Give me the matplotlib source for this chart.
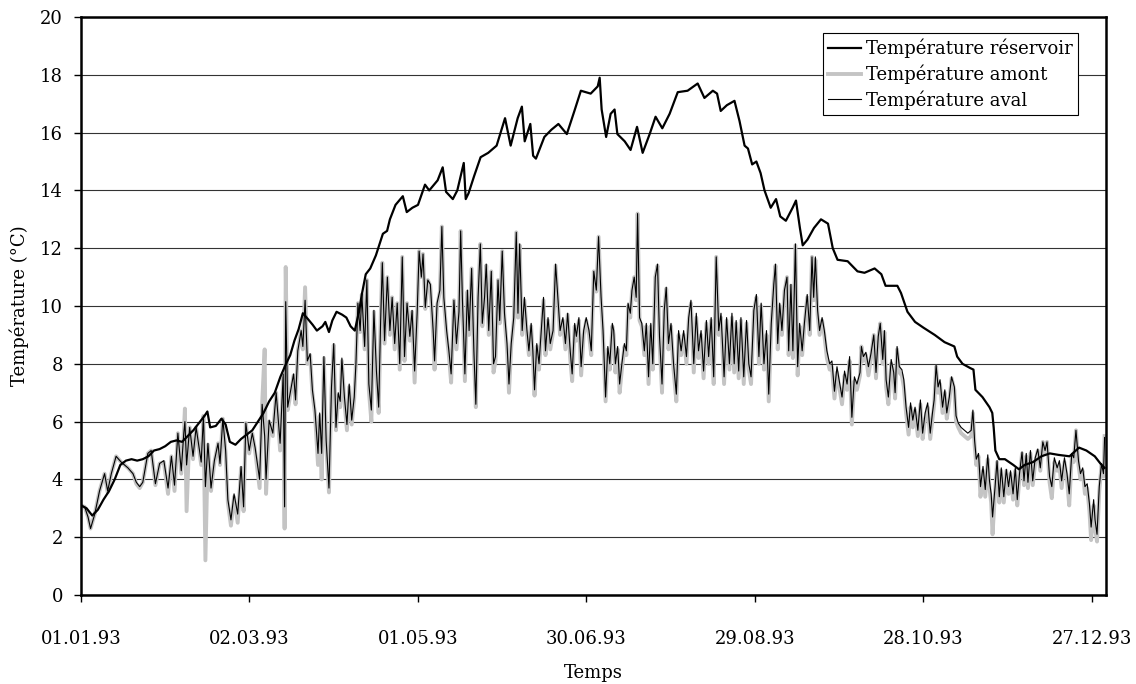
import matplotlib
matplotlib.use("Agg")
import matplotlib.pyplot as plt

# ── Data (day of year 1993, °C) ──────────────────────────────────────────────
res_days = [
    0, 2, 4, 6, 8, 10, 12, 14, 16, 18, 20, 22, 24, 26, 28, 30, 32, 34, 36, 38,
    40, 42, 44, 45, 46, 48, 50, 51.5, 53, 55, 57, 59, 61, 63, 65, 67, 69, 71, 73,
    74.5, 76, 77.5, 79, 80.8, 82.5, 84, 86, 87, 88.3, 89.5, 91, 93, 94.5, 96,
    97.5, 99, 100, 101.4, 103, 105, 106.5, 107.5, 109, 110, 112, 114.6, 116, 118,
    120, 122.5, 124, 127, 128.8, 130, 132.4, 134, 136.3, 137, 138, 140, 142.3,
    145, 148, 151, 153, 155.5, 157, 158, 160, 161, 162, 165, 167.5, 170, 173,
    175.7, 178, 181.5, 184, 184.7, 185.4, 187, 188.6, 190, 191, 193.6, 195.7,
    198, 200, 202.5, 204.6, 207, 209.6, 212.5, 216, 219.6, 222, 225, 226.5,
    227.8, 230, 232.7, 234.5, 236.3, 237.5, 239, 240.5, 242, 243.4, 245.6,
    247.5, 249, 251, 253.4, 254.6, 256, 257, 258.7, 261, 263.5, 266, 267.7,
    269.4, 273, 276.5, 279, 282.6, 285, 286.5, 290.7, 292, 294.3, 297, 300,
    304, 307.5, 311, 312, 313.9, 316.7, 317.8, 318.5, 321, 323.5, 324.5, 325,
    325.6, 327, 329, 332, 334, 336, 339, 342, 345, 348, 352, 355.4, 358, 361,
    363, 364.5,
]
res_temp = [
    3.1, 3.0, 2.75, 2.95, 3.3, 3.6, 4.0, 4.5, 4.65, 4.7, 4.65, 4.7, 4.8, 5.0,
    5.05, 5.15, 5.3, 5.35, 5.3, 5.5, 5.7, 5.95, 6.2, 6.35, 5.8, 5.85, 6.1, 5.9,
    5.3, 5.2, 5.4, 5.55, 5.7, 6.0, 6.3, 6.7, 7.0, 7.55, 8.0, 8.3, 8.8, 9.2,
    9.75, 9.55, 9.35, 9.15, 9.3, 9.45, 9.1, 9.5, 9.8, 9.7, 9.6, 9.3, 9.15, 9.8,
    10.4, 11.1, 11.3, 11.75, 12.2, 12.5, 12.6, 13.0, 13.5, 13.8, 13.25, 13.4,
    13.5, 14.2, 14.0, 14.35, 14.8, 13.95, 13.7, 14.0, 14.95, 13.7, 13.9, 14.5,
    15.15, 15.3, 15.55, 16.5, 15.55, 16.5, 16.9, 15.7, 16.3, 15.2, 15.1, 15.85,
    16.1, 16.3, 15.95, 16.75, 17.45, 17.35, 17.6, 17.9, 16.8, 15.85, 16.65,
    16.8, 15.95, 15.7, 15.4, 16.2, 15.3, 15.95, 16.55, 16.15, 16.65, 17.4,
    17.45, 17.7, 17.2, 17.45, 17.35, 16.75, 16.95, 17.1, 16.4, 15.55, 15.45,
    14.9, 15.0, 14.6, 14.0, 13.4, 13.7, 13.1, 12.95, 13.4, 13.65, 12.7, 12.1,
    12.3, 12.7, 13.0, 12.85, 12.0, 11.6, 11.55, 11.2, 11.15, 11.3, 11.1, 10.7,
    10.7, 10.45, 9.8, 9.45, 9.25, 9.0, 8.75, 8.6, 8.25, 8.0, 7.85, 7.8, 7.1,
    6.85, 6.5, 6.3, 5.8, 5.0, 4.7, 4.7, 4.5, 4.35, 4.5, 4.6, 4.8, 4.9, 4.85,
    4.8, 5.1, 5.0, 4.8, 4.55, 4.4,
]

aval_days = [
    0, 1.3, 2.5, 3.4, 4.9, 6.6, 8.4, 9.5, 10.8, 12.5,
    14.3, 16.7, 18.5, 19.7, 20.9, 22, 23.8, 25, 26.5, 28,
    29.5, 31, 32.2, 33.3, 34.5, 35.7, 36.6, 37.0, 37.6, 38.7,
    39.9, 41, 42.8, 43.6, 44.3, 45.2, 46.3, 47.5, 48.8, 49.5,
    50.5, 51.5, 52.3, 53.4, 54.5, 55.8, 57, 57.9, 58.7, 59.9,
    61, 62, 63.6, 64.5, 65.4, 65.9, 67, 68.3, 69.5, 70.9,
    72, 72.5, 72.9, 73.6, 74.5, 75.7, 76.4, 77.2, 78.4, 79,
    79.8, 80.6, 81.6, 82.4, 83.3, 84.4, 85, 85.7, 86.5, 87.3,
    88.3, 89.2, 90, 90.8, 91.6, 92.3, 92.9, 93.8, 94.7, 95.5,
    96.4, 97.3, 97.9, 98.6, 99.4, 100, 101, 101.8, 102.5, 103.4,
    104.3, 105.2, 106, 106.7, 107.3, 108.1, 109.1, 110, 110.8, 111.7,
    112.6, 113.5, 114.4, 115.2, 116.1, 117.1, 117.9, 118.8, 119.7, 120.4,
    121.2, 121.8, 122.6, 123.5, 124.4, 125.4, 125.9, 126.8, 127.8, 128.5,
    129.2, 130.2, 131, 131.8, 132.8, 133.7, 134.6, 135.2, 135.8, 136.7,
    137.6, 138.2, 139.1, 139.9, 140.6, 141.4, 142.2, 142.9, 143.7, 144.3,
    145.2, 146.1, 146.9, 147.6, 148.5, 149.1, 150, 150.8, 151.7, 152.4,
    153.2, 154.1, 155, 155.6, 156.2, 157.1, 157.9, 158.8, 159.5, 160.3,
    160.9, 161.5, 162.3, 163.1, 163.9, 164.7, 165.4, 166.3, 167.1, 168.1,
    169, 169.8, 170.6, 171.6, 172.5, 173.3, 174.2, 174.9, 175.8, 176.4,
    177.3, 178.1, 179, 179.9, 180.9, 181.7, 182.6, 183.5, 184.3, 185.2,
    185.9, 186.8, 187.6, 188.3, 189.2, 189.7, 190.3, 191.1, 191.8, 192.6,
    193.5, 194.2, 194.8, 195.6, 196.2, 197, 197.7, 198.2, 198.9, 199.7,
    200.6, 201.3, 202.1, 202.9, 203.6, 204.5, 205.3, 206, 206.9, 207.7,
    208.4, 209.2, 210.1, 211, 212, 212.8, 213.7, 214.6, 215.6, 216.4,
    217.2, 218.2, 219.1, 219.9, 220.8, 221.7, 222.7, 223.5, 224.4, 225.3,
    226.2, 227.1, 227.9, 229, 229.9, 230.9, 231.8, 232.6, 233.3, 234.2,
    235, 236, 237, 237.8, 238.6, 239.6, 240.5, 241.4, 242.2, 243.2,
    244.1, 244.9, 245.8, 246.7, 247.3, 248.1, 248.8, 249.6, 250.5, 251.4,
    252, 252.8, 253.5, 254.4, 255.2, 255.9, 256.8, 257.6, 258.6, 259.5,
    260.3, 260.9, 261.5, 262.3, 263, 263.9, 264.7, 265.6, 266.6, 267.4,
    268.3, 269.2, 270.2, 271, 271.9, 272.8, 273.7, 274.5, 275.4, 276.3,
    277.4, 277.9, 278.6, 279.5, 280.4, 281.3, 282.3, 283.1, 283.9, 284.6,
    285.5, 286.1, 286.7, 287.5, 288.5, 289.4, 289.9, 290.6, 291.4, 292.3,
    293, 293.8, 294.7, 295.4, 296.2, 297, 298, 298.9, 299.7, 300.6,
    301.5, 302.4, 303.2, 303.8, 304.5, 305.2, 305.9, 306.8, 307.6, 308.3,
    309.2, 310, 311, 311.6, 312.4, 313.4, 314.6, 315.8, 317, 317.6,
    318.2, 318.8, 319.6, 320.3, 321.2, 322, 322.9, 323.5, 324.1, 324.6,
    325.5, 326.2, 327, 327.7, 328.6, 329.5, 330.3, 331, 331.9, 332.7,
    333.4, 334.2, 335.1, 335.8, 336.6, 337.2, 338.1, 338.9, 339.8, 340.7,
    341.6, 342.5, 343.3, 344, 344.9, 345.7, 346.6, 347.6, 348.4, 349.2,
    350.2, 351.1, 351.9, 352.8, 353.5, 354.3, 355.2, 355.9, 356.7, 357.5,
    358.3, 359.1, 359.7, 360.6, 361.1, 361.8, 362.6, 363.4, 364.1, 364.5,
]
aval_temp = [
    3.1, 3.05, 2.7, 2.3, 2.8, 3.6, 4.2, 3.6, 4.2, 4.8,
    4.6, 4.4, 4.2, 3.9, 3.75, 3.9, 4.9, 5.0, 3.85, 4.55,
    4.65, 3.7, 4.8, 3.8, 5.6, 4.3, 5.6, 6.0, 4.5, 5.8,
    4.8, 5.8, 4.6, 6.2, 3.75, 5.25, 3.7, 4.65, 5.25, 4.55,
    6.1, 5.0, 3.3, 2.6, 3.5, 2.8, 4.45, 3.05, 5.95, 5.0,
    5.6, 5.1, 4.0, 6.6, 5.5, 4.0, 6.05, 5.6, 7.0, 5.25,
    7.65, 3.05, 10.15, 6.5, 7.0, 7.65, 6.75, 8.45, 9.15, 8.6,
    10.2, 8.1, 8.35, 7.1, 6.4, 4.9, 6.3, 4.9, 8.25, 5.35,
    3.7, 7.2, 8.7, 5.8, 7.0, 6.7, 8.2, 6.85, 5.9, 7.3,
    6.05, 6.85, 8.0, 10.1, 9.15, 10.4, 8.6, 10.9, 7.3, 6.4,
    9.85, 7.75, 6.5, 9.5, 11.5, 8.8, 11.0, 9.15, 10.3, 8.7,
    10.1, 8.0, 11.7, 8.25, 10.1, 8.95, 9.85, 7.75, 9.75, 11.9,
    11.0, 11.8, 9.95, 10.9, 10.75, 9.15, 8.1, 10.1, 10.55, 12.75,
    10.3, 9.15, 8.45, 7.65, 10.2, 8.7, 9.8, 12.6, 10.3, 7.65,
    10.55, 9.15, 11.3, 8.45, 6.6, 10.3, 12.15, 9.4, 10.3, 11.45,
    9.15, 11.2, 8.0, 8.25, 10.9, 9.5, 11.9, 9.75, 8.7, 7.3,
    8.7, 9.6, 12.55, 9.75, 12.15, 9.15, 10.3, 9.15, 8.45, 9.4,
    8.45, 7.1, 8.7, 8.0, 9.15, 10.3, 8.45, 9.6, 8.7, 9.15,
    11.45, 10.3, 9.15, 9.6, 8.7, 9.75, 8.45, 7.65, 9.4, 8.95,
    9.6, 7.9, 9.15, 9.6, 9.15, 8.45, 11.2, 10.55, 12.4, 10.3,
    9.15, 6.85, 8.6, 8.0, 9.4, 9.15, 8.0, 8.6, 7.3, 8.0,
    8.7, 8.45, 10.1, 9.75, 10.55, 11.0, 10.3, 13.2, 9.6, 9.4,
    8.45, 9.4, 7.55, 9.4, 8.0, 11.0, 11.45, 8.95, 7.3, 9.85,
    10.65, 8.7, 9.4, 8.0, 6.95, 9.15, 8.45, 9.15, 8.25, 9.6,
    10.2, 8.0, 9.75, 8.45, 9.15, 7.75, 9.5, 8.25, 9.6, 7.55,
    11.7, 9.15, 9.75, 7.55, 9.6, 8.0, 9.75, 8.0, 9.5, 7.75,
    9.6, 7.55, 9.5, 8.0, 7.55, 9.85, 10.4, 8.25, 10.1, 8.0,
    9.15, 6.95, 9.4, 10.75, 11.45, 8.7, 10.1, 9.15, 10.55, 11.0,
    8.45, 10.75, 8.45, 12.15, 7.9, 9.4, 8.45, 9.4, 10.4, 9.15,
    11.7, 10.3, 11.7, 9.85, 9.15, 9.6, 9.15, 8.45, 8.0, 8.1,
    7.05, 7.9, 7.3, 6.85, 7.75, 7.3, 8.25, 6.15, 7.55, 7.3,
    7.7, 8.6, 8.25, 8.4, 7.9, 8.35, 9.0, 7.7, 8.95, 9.4,
    8.15, 9.15, 7.45, 6.85, 8.15, 7.7, 7.0, 8.6, 7.9, 7.8,
    7.45, 6.5, 5.8, 6.65, 6.05, 6.5, 5.7, 6.75, 5.6, 6.3,
    6.65, 5.6, 6.3, 6.75, 7.95, 7.2, 7.45, 6.5, 7.1, 6.3,
    6.85, 7.55, 7.2, 6.2, 5.95, 5.8, 5.7, 5.6, 5.7, 6.4,
    5.35, 4.7, 4.9, 3.75, 4.45, 3.65, 4.85, 3.95, 3.5, 2.7,
    3.75, 4.65, 3.4, 4.4, 3.4, 4.35, 3.75, 4.3, 3.5, 4.4,
    3.3, 4.2, 4.95, 3.95, 4.9, 3.9, 5.0, 3.95, 4.75, 5.05,
    4.4, 5.3, 5.0, 5.3, 4.1, 3.75, 4.75, 4.4, 4.65, 3.95,
    4.75, 4.2, 3.5, 4.9, 4.75, 5.7, 4.65, 4.2, 4.4, 3.75,
    3.85, 3.15, 2.35, 3.3, 2.6, 2.1, 3.75, 4.55, 4.2, 5.45,
]
amont_temp = [
    3.1, 3.05, 2.7, 2.3, 2.8, 3.6, 4.2, 3.55, 4.2, 4.8,
    4.6, 4.4, 4.2, 3.85, 3.7, 3.9, 4.9, 5.0, 3.8, 4.55,
    4.6, 3.5, 4.8, 3.6, 5.6, 4.2, 5.6, 6.45, 2.9, 5.8,
    4.7, 5.8, 4.5, 6.2, 1.2, 5.2, 3.6, 4.6, 5.25, 4.5,
    6.1, 4.9, 3.2, 2.4, 3.4, 2.5, 4.4, 2.9, 5.95, 4.9,
    5.6, 5.0, 3.7, 6.6, 8.5, 3.5, 6.0, 5.5, 7.0, 5.0,
    7.5, 2.3, 11.35, 6.4, 6.9, 7.6, 6.6, 8.45, 9.15, 8.5,
    10.65, 8.0, 8.3, 7.0, 6.3, 4.5, 6.2, 4.0, 8.2, 5.2,
    3.55, 7.1, 8.65, 5.7, 6.9, 6.5, 8.1, 6.7, 5.7, 7.2,
    5.9, 6.8, 8.0, 10.1, 9.1, 10.4, 8.5, 10.9, 7.1, 6.0,
    9.8, 7.6, 6.3, 9.5, 11.5, 8.7, 11.0, 9.0, 10.3, 8.5,
    10.1, 7.8, 11.7, 8.1, 10.1, 8.8, 9.8, 7.35, 9.7, 11.9,
    11.0, 11.8, 9.9, 10.9, 10.7, 9.0, 7.8, 10.0, 10.5, 12.75,
    10.2, 9.0, 8.3, 7.35, 10.2, 8.5, 9.7, 12.6, 10.2, 7.4,
    10.5, 9.0, 11.3, 8.3, 6.5, 10.3, 12.15, 9.3, 10.3, 11.4,
    9.0, 11.2, 7.7, 8.1, 10.9, 9.4, 11.9, 9.6, 8.5, 7.0,
    8.6, 9.5, 12.55, 9.6, 12.1, 9.0, 10.2, 9.0, 8.3, 9.3,
    8.3, 6.9, 8.6, 7.8, 9.0, 10.2, 8.3, 9.5, 8.5, 9.1,
    11.4, 10.2, 9.0, 9.5, 8.5, 9.7, 8.2, 7.4, 9.3, 8.8,
    9.5, 7.6, 9.0, 9.5, 9.0, 8.3, 11.2, 10.5, 12.4, 10.2,
    9.0, 6.7, 8.5, 7.8, 9.3, 9.0, 7.7, 8.5, 7.0, 7.8,
    8.6, 8.3, 10.0, 9.6, 10.5, 11.0, 10.2, 13.2, 9.5, 9.3,
    8.3, 9.3, 7.3, 9.3, 7.8, 11.0, 11.4, 8.8, 7.0, 9.8,
    10.6, 8.5, 9.3, 7.8, 6.7, 9.0, 8.3, 9.0, 8.0, 9.5,
    10.1, 7.7, 9.6, 8.2, 9.0, 7.5, 9.4, 8.0, 9.5, 7.3,
    11.7, 9.0, 9.6, 7.3, 9.5, 7.8, 9.6, 7.7, 9.4, 7.5,
    9.5, 7.3, 9.4, 7.8, 7.3, 9.8, 10.3, 8.0, 10.0, 7.8,
    9.0, 6.7, 9.3, 10.7, 11.4, 8.5, 10.0, 9.0, 10.5, 11.0,
    8.3, 10.7, 8.2, 12.1, 7.6, 9.3, 8.3, 9.3, 10.3, 9.0,
    11.7, 10.2, 11.6, 9.7, 9.0, 9.5, 9.0, 8.2, 7.8, 7.9,
    6.8, 7.7, 7.1, 6.6, 7.6, 7.1, 8.1, 5.9, 7.4, 7.1,
    7.6, 8.6, 8.1, 8.3, 7.6, 8.2, 9.0, 7.5, 8.9, 9.4,
    8.0, 9.1, 7.2, 6.6, 8.0, 7.5, 6.8, 8.5, 7.7, 7.6,
    7.2, 6.3, 5.55, 6.5, 5.8, 6.4, 5.5, 6.6, 5.4, 6.1,
    6.5, 5.4, 6.1, 6.6, 7.9, 7.0, 7.3, 6.3, 7.0, 6.1,
    6.7, 7.5, 7.1, 6.0, 5.8, 5.6, 5.5, 5.4, 5.5, 6.3,
    5.2, 4.5, 4.8, 3.4, 4.3, 3.4, 4.7, 3.7, 3.2, 2.1,
    3.6, 4.6, 3.2, 4.3, 3.2, 4.3, 3.5, 4.2, 3.3, 4.3,
    3.1, 4.1, 4.9, 3.8, 4.8, 3.7, 4.9, 3.8, 4.6, 5.0,
    4.3, 5.3, 4.9, 5.3, 3.9, 3.35, 4.6, 4.3, 4.5, 3.7,
    4.6, 4.0, 3.1, 4.8, 4.6, 5.7, 4.5, 4.0, 4.3, 3.5,
    3.7, 2.9, 1.9, 3.1, 2.3, 1.85, 3.6, 4.5, 4.1, 5.5,
]
assert len(aval_days) == len(aval_temp) == len(amont_temp)
assert len(res_days) == len(res_temp)

tick_days = [0, 60, 120, 180, 240, 300, 360]
tick_labels = ["01.01.93", "02.03.93", "01.05.93", "30.06.93",
               "29.08.93", "28.10.93", "27.12.93"]

# ── Figure ───────────────────────────────────────────────────────────────────
plt.rcParams["font.family"] = ["DejaVu Serif"]
plt.rcParams["font.size"] = 13

fig = plt.figure(figsize=(11.36, 6.84), dpi=100)
ax = fig.add_axes([0.0713, 0.1301, 0.9023, 0.8450])

l_res, = ax.plot(res_days, res_temp, color="black", lw=1.6, zorder=4,
                 label="Température réservoir")
l_am, = ax.plot(aval_days, amont_temp, color="#c4c4c4", lw=2.8, zorder=2,
                label="Température amont")
l_av, = ax.plot(aval_days, aval_temp, color="black", lw=0.8, zorder=3,
                label="Température aval")

ax.set_xlim(0, 365)
ax.set_ylim(0, 20)
ax.set_yticks(range(0, 21, 2))
ax.set_xticks(tick_days)
ax.set_xticklabels(tick_labels)
ax.yaxis.grid(True, color="0.2", lw=0.8)
ax.set_axisbelow(True)

for sp in ax.spines.values():
    sp.set_linewidth(1.8)
ax.tick_params(axis="both", direction="out", length=5, width=1)
ax.tick_params(axis="x", pad=20)
ax.tick_params(axis="y", pad=8)

ax.set_xlabel("Temps", labelpad=12)
ax.set_ylabel("Température (°C)", labelpad=8)

leg = ax.legend(handles=[l_res, l_am, l_av], loc="upper right",
                bbox_to_anchor=(0.973, 0.972), borderaxespad=0,
                fancybox=False, framealpha=1, edgecolor="black",
                handlelength=1.8, handletextpad=0.3, labelspacing=0.35,
                borderpad=0.3)
leg.get_frame().set_linewidth(0.8)

fig.savefig("out.png", dpi=100)
